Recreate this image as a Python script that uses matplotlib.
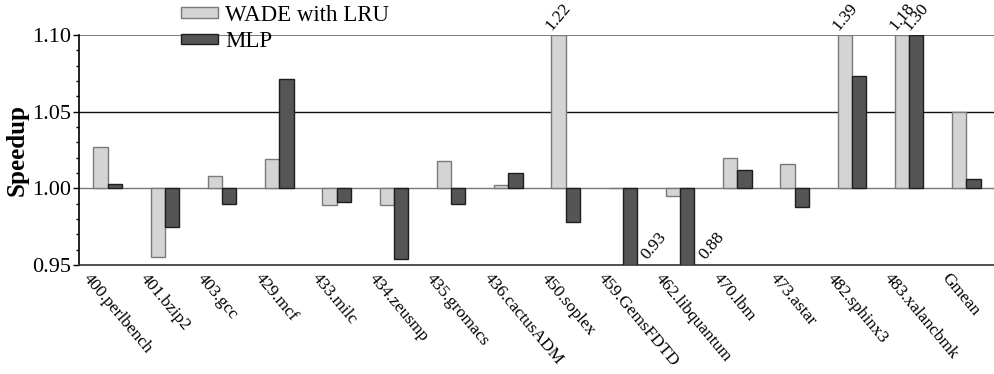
import matplotlib.pyplot as plt
import numpy as np

plt.rcParams['font.family'] = ['Liberation Serif', 'DejaVu Serif']

benchmarks = ['400.perlbench', '401.bzip2', '403.gcc', '429.mcf', '433.milc',
              '434.zeusmp', '435.gromacs', '436.cactusADM', '450.soplex',
              '459.GemsFDTD', '462.libquantum', '470.lbm', '473.astar',
              '482.sphinx3', '483.xalancbmk', 'Gmean']
wade_lru = [1.027, 0.955, 1.008, 1.019, 0.989, 0.989, 1.018, 1.002, 1.22,
            1.0005, 0.995, 1.020, 1.016, 1.39, 1.18, 1.050]
mlp = [1.003, 0.975, 0.990, 1.071, 0.991, 0.954, 0.990, 1.010, 0.978,
       0.93, 0.88, 1.012, 0.988, 1.073, 1.30, 1.006]

ymin, ymax = 0.95, 1.10
base = 1.0

fig = plt.figure(figsize=(9.95, 3.74), dpi=100)
ax = fig.add_axes([0.0794, 0.2914, 0.9206, 0.615])

x = np.arange(len(benchmarks)) + 0.5
w = 0.25

# bars grow from 1.0, clipped to the visible range
h1 = [min(max(v, ymin), ymax) - base for v in wade_lru]
h2 = [min(max(v, ymin), ymax) - base for v in mlp]
ax.bar(x - w / 2, h1, w, bottom=base, color='#d4d4d4', edgecolor='#7a7a7a',
       linewidth=1.0, label='WADE with LRU', zorder=3)
ax.bar(x + w / 2, h2, w, bottom=base, color='#555555', edgecolor='#1e1e1e',
       linewidth=1.0, label='MLP', zorder=3)

# values beyond the axis range
for xi, v in zip(x - w / 2, wade_lru):
    if v > ymax:
        ax.annotate('%.2f' % v, (xi, ymax), xytext=(0, 1), textcoords='offset points',
                    ha='center', va='bottom', rotation=50, fontsize=12.5)
for xi, v in zip(x + w / 2, mlp):
    if v > ymax:
        ax.annotate('%.2f' % v, (xi, ymax), xytext=(0, 1), textcoords='offset points',
                    ha='center', va='bottom', rotation=50, fontsize=12.5)
    elif v < ymin:
        ax.annotate('%.2f' % v, (xi + w / 2, ymin), xytext=(1, 2), textcoords='offset points',
                    ha='left', va='bottom', rotation=50, fontsize=12.5)

ax.axhline(1.00, color='#777777', lw=1.0, zorder=2)
ax.axhline(1.05, color='#111111', lw=1.0, zorder=2)
ax.axhline(1.10, color='#666666', lw=1.2, zorder=2)

ax.set_xlim(0, len(benchmarks))
ax.set_ylim(ymin, ymax)
ax.set_yticks([0.95, 1.00, 1.05, 1.10])
ax.set_yticklabels(['0.95', '1.00', '1.05', '1.10'], fontsize=16)
ax.set_yticks(np.arange(0.95, 1.1001, 0.01), minor=True)
ax.tick_params(axis='y', which='major', direction='out', length=4, width=1, pad=2)
ax.tick_params(axis='y', which='minor', direction='out', length=2.5, width=1)
ax.set_xticks(x - 0.28)
ax.set_xticklabels(benchmarks, rotation=-50, ha='left', va='top',
                   rotation_mode='anchor', fontsize=12.5)
ax.tick_params(axis='x', length=0, pad=4)
ax.set_ylabel('Speedup', fontsize=18, fontweight='bold', labelpad=2)

for s in ['top', 'right']:
    ax.spines[s].set_visible(False)
ax.spines['left'].set_linewidth(1.2)
ax.spines['bottom'].set_linewidth(1.2)
ax.spines['bottom'].set_color('#333333')

fig.legend(loc='upper left', bbox_to_anchor=(0.173, 1.012), frameon=False,
           fontsize=16.5, handlelength=1.6, handleheight=0.32, handletextpad=0.3,
           labelspacing=0.25, borderaxespad=0)

fig.savefig('out.png', dpi=100)
